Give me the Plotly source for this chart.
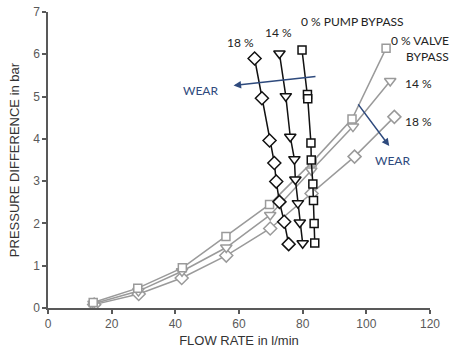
import plotly.graph_objects as go

# Pump bypass series (black)
pump0_x = [79.8, 81.5, 81.6, 82.6, 82.7, 83.2, 83.4, 83.6, 83.8]
pump0_y = [6.1, 5.05, 4.95, 3.9, 3.5, 2.93, 2.54, 2.0, 1.54]
pump14_x = [72.7, 74.7, 76.1, 77.4, 77.7, 78.5, 79.1, 80.0]
pump14_y = [6.02, 5.01, 4.05, 3.52, 3.04, 2.48, 2.02, 1.53]
pump18_x = [64.9, 67.2, 69.6, 71.1, 71.7, 72.7, 74.2, 75.6]
pump18_y = [5.9, 4.96, 3.96, 3.43, 2.99, 2.51, 2.04, 1.51]

# Valve bypass series (grey)
valve0_x = [14.2, 28.2, 42.2, 55.9, 69.6, 83.0, 95.5, 106.2]
valve0_y = [0.13, 0.47, 0.95, 1.69, 2.45, 3.45, 4.47, 6.14]
valve14_x = [14.3, 28.4, 42.1, 56.0, 69.8, 82.7, 95.8, 107.5]
valve14_y = [0.1, 0.4, 0.87, 1.43, 2.2, 3.25, 4.29, 5.37]
valve18_x = [14.5, 28.5, 42.0, 56.0, 69.8, 82.8, 96.3, 108.8]
valve18_y = [0.08, 0.33, 0.71, 1.24, 1.88, 2.71, 3.58, 4.52]

x_ticks = [0, 20, 40, 60, 80, 100, 120]
y_ticks = [0, 1, 2, 3, 4, 5, 6, 7]

GREY = "#9a9a9a"
BLACK = "#111111"
BLUE = "#2e4a7d"

fig = go.Figure()

def add(xs, ys, color, symbol, size):
    fig.add_trace(go.Scatter(
        x=xs, y=ys, mode="lines+markers",
        line=dict(color=color, width=1.5),
        marker=dict(symbol=symbol, size=size, color="white",
                    line=dict(color=color, width=1.5)),
        showlegend=False, hoverinfo="skip"))

add(valve18_x, valve18_y, GREY, "diamond", 10)
add(valve14_x, valve14_y, GREY, "triangle-down", 10)
add(valve0_x, valve0_y, GREY, "square", 8)
add(pump18_x, pump18_y, BLACK, "diamond", 10)
add(pump14_x, pump14_y, BLACK, "triangle-down", 10)
add(pump0_x, pump0_y, BLACK, "square", 8)

# Wear arrows
fig.add_annotation(x=58.3, y=5.26, ax=84.5, ay=5.48, xref="x", yref="y",
                   axref="x", ayref="y", showarrow=True, arrowhead=2,
                   arrowsize=1, arrowwidth=1.5, arrowcolor=BLUE, text="")
fig.add_annotation(x=107.2, y=3.83, ax=97.1, ay=4.85, xref="x", yref="y",
                   axref="x", ayref="y", showarrow=True, arrowhead=2,
                   arrowsize=1, arrowwidth=1.5, arrowcolor=BLUE, text="")

lab_font = dict(family="Lato, Open Sans, sans-serif", size=12, color="#222222")
wear_font = dict(family="Lato, Open Sans, sans-serif", size=12, color=BLUE)

def txt(x, y, s, font, xanchor="center", ref="data"):
    r = ("x", "y") if ref == "data" else ("paper", "paper")
    fig.add_annotation(x=x, y=y, xref=r[0], yref=r[1], text=s, showarrow=False,
                       font=font, xanchor=xanchor, yanchor="middle")

txt(47.8, 5.15, "WEAR", wear_font)
txt(108.2, 3.48, "WEAR", wear_font)
txt(95.8, 6.77, "0 % PUMP BYPASS", lab_font)
txt(60.4, 6.27, "18 %", lab_font)
txt(72.3, 6.52, "14 %", lab_font)
txt(1.055, 0.905, "0 % VALVE", lab_font, xanchor="right", ref="paper")
txt(1.055, 0.849, "BYPASS", lab_font, xanchor="right", ref="paper")
txt(111.6, 5.32, "14 %", lab_font, xanchor="left")
txt(111.6, 4.4, "18 %", lab_font, xanchor="left")

axis_common = dict(showgrid=False, zeroline=False, showline=True,
                   linecolor="#595959", linewidth=1.5, ticks="outside",
                   ticklen=4, tickcolor="#595959", tickwidth=1.5,
                   tickfont=dict(family="Liberation Sans, Arial", size=12, color="#595959"))

fig.update_xaxes(range=[0, 120], tickvals=x_ticks,
                 title=dict(text="FLOW RATE in l/min", standoff=6,
                            font=dict(family="Liberation Sans, Arial", size=13, color="#333333")),
                 **axis_common)
fig.update_yaxes(range=[0, 7], tickvals=y_ticks,
                 title=dict(text="PRESSURE DIFFERENCE in bar", standoff=11,
                            font=dict(family="Liberation Sans, Arial", size=13, color="#333333")),
                 **axis_common)

fig.update_layout(width=455, height=351, margin=dict(l=48, r=25, t=12, b=43, autoexpand=False),
                  plot_bgcolor="white", paper_bgcolor="white")

fig.write_html("out.html", config={"displayModeBar": False},
               post_script="document.body.style.margin='0';")
